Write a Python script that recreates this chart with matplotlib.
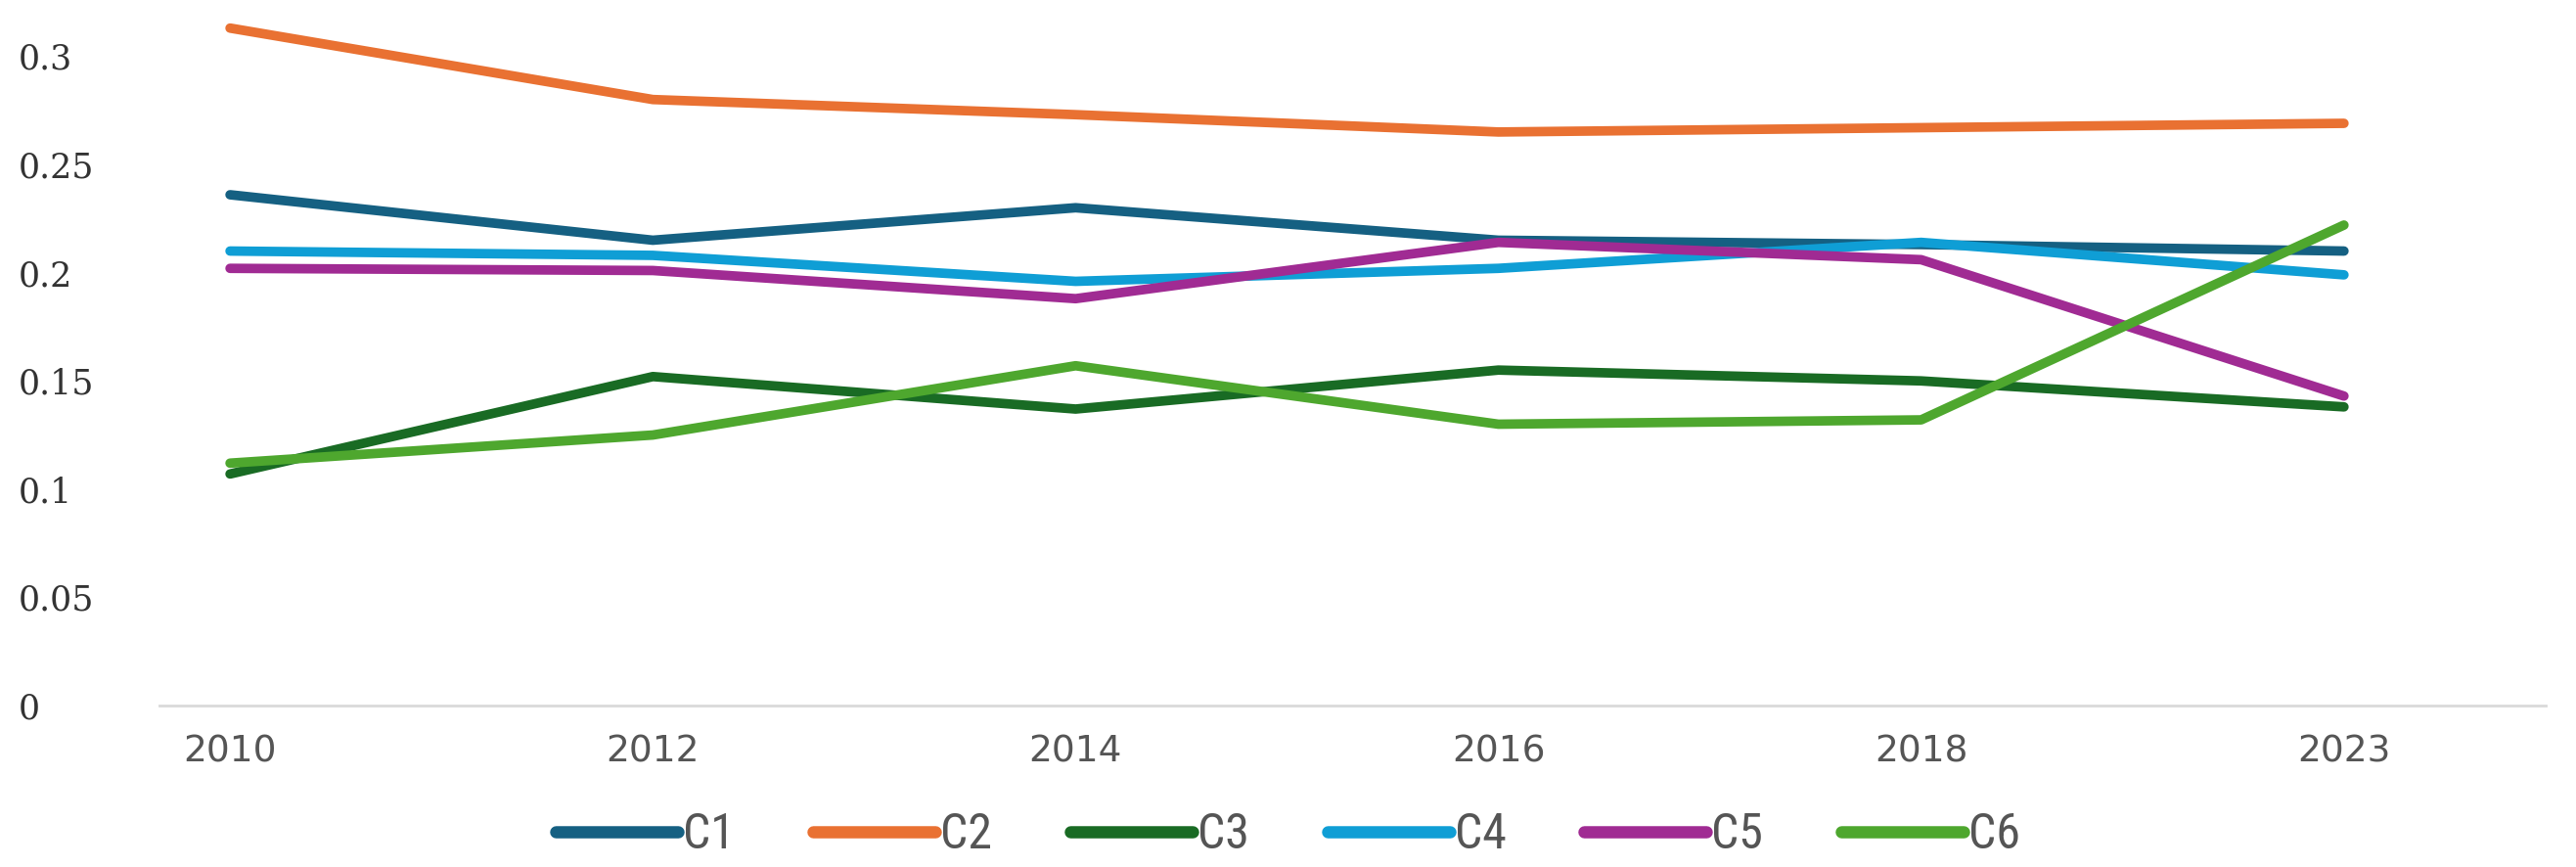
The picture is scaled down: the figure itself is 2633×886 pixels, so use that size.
import matplotlib
matplotlib.use("Agg")
import matplotlib.pyplot as plt
from matplotlib import font_manager

# data
years = ["2010", "2012", "2014", "2016", "2018", "2023"]
c1 = [0.236, 0.215, 0.230, 0.215, 0.213, 0.210]
c2 = [0.313, 0.280, 0.273, 0.265, 0.267, 0.269]
c3 = [0.107, 0.152, 0.137, 0.155, 0.150, 0.138]
c4 = [0.210, 0.208, 0.196, 0.202, 0.214, 0.199]
c5 = [0.202, 0.201, 0.188, 0.214, 0.206, 0.143]
c6 = [0.112, 0.125, 0.157, 0.130, 0.132, 0.222]
series_names = ["C1", "C2", "C3", "C4", "C5", "C6"]
yticks = [0, 0.05, 0.1, 0.15, 0.2, 0.25, 0.3]
ytick_labels = ["0", "0.05", "0.1", "0.15", "0.2", "0.25", "0.3"]

colors = ["#156082", "#E97132", "#196B24", "#0F9ED5", "#A02B93", "#4EA72E"]

# condensed font for the legend if it is there
names = {f.name for f in font_manager.fontManager.ttflist}
legend_family = ["DejaVu Sans"]
for cand in ["Liberation Sans Narrow", "DejaVu Sans Condensed", "Roboto Condensed"]:
    if cand in names:
        legend_family = [cand, "DejaVu Sans"]
        break

fig = plt.figure(figsize=(26.33, 8.86), dpi=100)
ax = fig.add_axes([0.0619, 0.1862, 0.9263, 0.8081])

x = list(range(len(years)))
for name, vals, col in zip(series_names, [c1, c2, c3, c4, c5, c6], colors):
    ax.plot(x, vals, color=col, linewidth=7, solid_capstyle="round",
            solid_joinstyle="round", label=name)

ax.set_xlim(-0.167, 5.477)
ax.set_ylim(0, 0.3237)

for side in ["top", "right", "left"]:
    ax.spines[side].set_visible(False)
ax.spines["bottom"].set_color("#d9d9d9")
ax.spines["bottom"].set_linewidth(2)

ax.set_xticks(x)
ax.set_xticklabels(years, fontsize=27, color="#555555", family="DejaVu Sans")
ax.tick_params(axis="x", length=0, pad=21)

ax.set_yticks(yticks)
ax.set_yticklabels(ytick_labels, fontsize=25, color="#333333", family="DejaVu Serif")
ax.tick_params(axis="y", length=0, pad=104)
for lab in ax.get_yticklabels():
    lab.set_horizontalalignment("left")

leg = fig.legend(loc="center", bbox_to_anchor=(0.5, 0.037), ncol=6, frameon=False,
                 handlelength=2.5, handletextpad=0.1, columnspacing=1.6,
                 prop={"family": legend_family, "size": 36})
for h in leg.get_lines():
    h.set_linewidth(9)
    h.set_solid_capstyle("round")
for t in leg.get_texts():
    t.set_color("#555555")

fig.savefig("out.png", dpi=100, facecolor="white")
